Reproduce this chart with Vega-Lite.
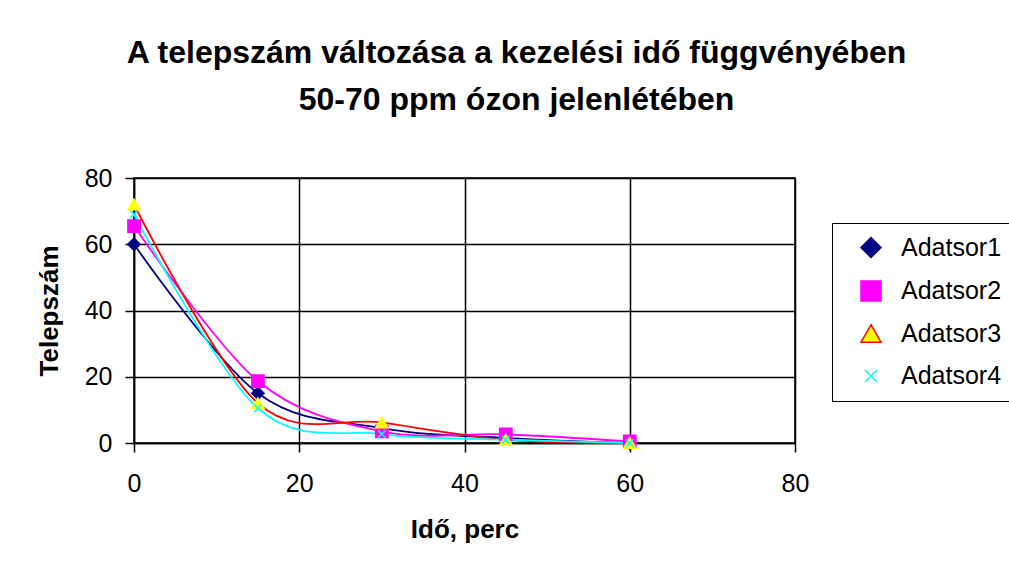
{
  "$schema": "https://vega.github.io/schema/vega-lite/v6.json",
  "width": 661,
  "height": 265,
  "autosize": {"type": "none"},
  "padding": {"left": 134, "top": 178, "right": 214, "bottom": 129},
  "background": "white",
  "title": {
    "text": ["A telepszám változása a kezelési idő függvényében", "50-70 ppm ózon jelenlétében"],
    "font": "Liberation Sans",
    "fontSize": 32,
    "fontWeight": "bold",
    "color": "black",
    "lineHeight": 47,
    "anchor": "middle",
    "dx": 52,
    "offset": 49
  },
  "config": {
    "view": {"stroke": "black", "strokeWidth": 1.5},
    "axis": {
      "labelFont": "Liberation Sans",
      "labelFontSize": 25,
      "labelColor": "black",
      "titleFont": "Liberation Sans",
      "titleFontSize": 26,
      "titleFontWeight": "bold",
      "titleColor": "black",
      "tickColor": "black",
      "tickSize": 9,
      "tickWidth": 1.5,
      "domainColor": "black",
      "domainWidth": 1.5,
      "gridColor": "black",
      "gridWidth": 1.5,
      "gridOpacity": 1
    }
  },
  "data": {
    "values": [
      {"ido": 0, "telep": 60, "sor": "Adatsor1"},
      {"ido": 15, "telep": 15, "sor": "Adatsor1"},
      {"ido": 30, "telep": 4.5, "sor": "Adatsor1"},
      {"ido": 45, "telep": 1.5, "sor": "Adatsor1"},
      {"ido": 60, "telep": 0, "sor": "Adatsor1"},
      {"ido": 0, "telep": 65.5, "sor": "Adatsor2"},
      {"ido": 15, "telep": 18.7, "sor": "Adatsor2"},
      {"ido": 30, "telep": 3.5, "sor": "Adatsor2"},
      {"ido": 45, "telep": 2.6, "sor": "Adatsor2"},
      {"ido": 60, "telep": 0.5, "sor": "Adatsor2"},
      {"ido": 0, "telep": 72, "sor": "Adatsor3"},
      {"ido": 15, "telep": 12, "sor": "Adatsor3"},
      {"ido": 30, "telep": 6.2, "sor": "Adatsor3"},
      {"ido": 45, "telep": 1, "sor": "Adatsor3"},
      {"ido": 60, "telep": 0, "sor": "Adatsor3"},
      {"ido": 0, "telep": 69, "sor": "Adatsor4"},
      {"ido": 15, "telep": 10.5, "sor": "Adatsor4"},
      {"ido": 30, "telep": 2.7, "sor": "Adatsor4"},
      {"ido": 45, "telep": 1, "sor": "Adatsor4"},
      {"ido": 60, "telep": 0, "sor": "Adatsor4"}
    ]
  },
  "encoding": {
    "x": {
      "field": "ido", "type": "quantitative",
      "scale": {"domain": [0, 80], "nice": false},
      "axis": {"values": [0, 20, 40, 60, 80], "title": "Idő, perc", "labelPadding": 19, "titlePadding": 20, "labelFlush": false}
    },
    "y": {
      "field": "telep", "type": "quantitative",
      "scale": {"domain": [0, 80], "nice": false},
      "axis": {"values": [0, 20, 40, 60, 80], "title": "Telepszám", "labelPadding": 13, "titlePadding": 22, "labelFlush": false}
    }
  },
  "layer": [
    {
      "mark": {"type": "line", "interpolate": "cardinal", "strokeWidth": 1.8},
      "encoding": {
        "color": {
          "field": "sor", "type": "nominal",
          "scale": {"domain": ["Adatsor1", "Adatsor2", "Adatsor3", "Adatsor4"], "range": ["#000080", "#FF00FF", "#FF0000", "#00FFFF"]}
        }
      }
    },
    {
      "mark": {"type": "point", "filled": true, "size": 150, "opacity": 1, "strokeWidth": 1.5},
      "encoding": {
        "shape": {
          "field": "sor", "type": "nominal",
          "scale": {"domain": ["Adatsor1", "Adatsor2", "Adatsor3", "Adatsor4"], "range": ["diamond", "square", "triangle-up", "M-0.6,-0.6L0.6,0.6M-0.6,0.6L0.6,-0.6"]}
        },
        "stroke": {
          "field": "sor", "type": "nominal",
          "scale": {"domain": ["Adatsor1", "Adatsor2", "Adatsor3", "Adatsor4"], "range": ["#000080", "#FF00FF", "#FFFF00", "#00FFFF"]}
        },
        "fill": {
          "field": "sor", "type": "nominal",
          "scale": {"domain": ["Adatsor1", "Adatsor2", "Adatsor3", "Adatsor4"], "range": ["#000080", "#FF00FF", "#FFFF00", "#00FFFF"]},
          "legend": {
            "title": null,
            "orient": "none",
            "legendX": 698,
            "legendY": 45,
            "padding": 12,
            "strokeColor": "black",
            "fillColor": "white",
            "labelFont": "Liberation Sans",
            "labelFontSize": 25,
            "labelColor": "black",
            "symbolSize": 400,
            "symbolOffset": 14.5,
            "labelOffset": 17.5,
            "rowPadding": 16.5,
            "encode": {
              "legend": {
                "strokeWidth": {"value": 1.5}
              },
              "symbols": {
                "shape": {"value": {"expr": "datum.value == 'Adatsor1' ? 'M-2.65,0H2.65M-0.7,0L0,-0.7L0.7,0L0,0.7Z' : datum.value == 'Adatsor2' ? 'M-2.65,0H2.65M-0.65,-0.65H0.65V0.65H-0.65Z' : datum.value == 'Adatsor3' ? 'M-2.65,0H2.65M0,-0.75L0.8,0.65L-0.8,0.65Z' : 'M-2.65,0H2.65M-0.55,-0.55L0.55,0.55M-0.55,0.55L0.55,-0.55'"}},
                "stroke": {"value": {"expr": "datum.value == 'Adatsor1' ? '#000080' : datum.value == 'Adatsor2' ? '#FF00FF' : datum.value == 'Adatsor3' ? '#FF0000' : '#00FFFF'"}},
                "fill": {"value": {"expr": "datum.value == 'Adatsor1' ? '#000080' : datum.value == 'Adatsor2' ? '#FF00FF' : datum.value == 'Adatsor3' ? '#FFFF00' : '#00FFFF'"}},
                "strokeWidth": {"value": 1.8},
                "opacity": {"value": 1}
              }
            }
          }
        }
      }
    }
  ]
}
